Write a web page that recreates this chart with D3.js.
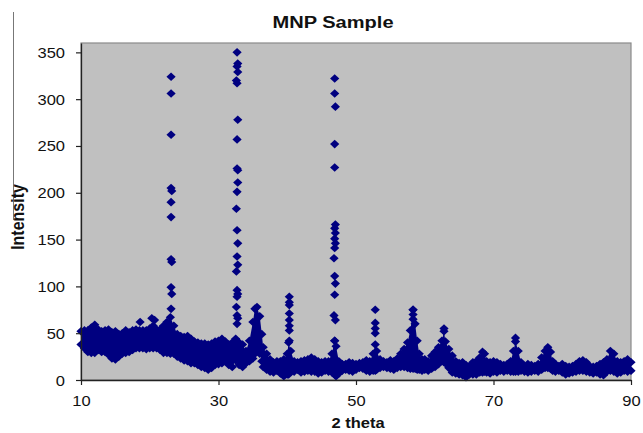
<!DOCTYPE html>
<html lang="en">
  <head>
    <meta charset="utf-8" />
    <title>MNP Sample</title>
    <style>
      body { margin: 0; background: #fff; }
      text { font-family: "Liberation Sans", Arial, sans-serif; }
    </style>
  </head>
  <body>
    <svg id="viz"></svg>

    <script src="https://d3js.org/d3.v7.min.js"></script>
    <script>
        // background band of the scan: 2 theta, upper and lower intensity
        var theta = [10, 10.5, 11, 11.5, 12, 12.5, 13, 13.5, 14, 14.5, 15, 15.5, 16, 16.5, 17, 17.5, 18, 18.5, 19, 19.5,
            20, 20.5, 21, 21.5, 22, 22.5, 23, 23.5, 24, 24.5, 25, 25.5, 26, 26.5, 27, 27.5, 28, 28.5, 29, 29.5,
            30, 30.5, 31, 31.5, 32, 32.5, 33, 33.5, 34, 34.5, 35, 35.3, 35.6, 36, 36.3, 36.5, 37, 37.5, 38, 38.5,
            39, 39.5, 40, 40.2, 40.5, 41, 41.5, 42, 42.5, 43, 43.5, 44, 44.5, 45, 45.5, 46, 46.5, 46.9, 47.1, 47.5,
            48, 48.5, 49, 49.5, 50, 50.5, 51, 51.5, 52, 52.5, 52.8, 53, 53.5, 54, 54.5, 55, 55.5, 56, 56.5, 57,
            57.5, 57.9, 58.3, 58.6, 58.9, 59.2, 59.6, 60, 60.5, 61, 61.5, 62, 62.5, 62.8, 63, 63.5, 64, 64.5, 65, 65.5,
            66, 66.5, 67, 67.5, 68, 68.4, 68.7, 69, 69.5, 70, 70.5, 71, 71.5, 72, 72.5, 72.9, 73.2, 73.6, 74, 74.5,
            75, 75.5, 76, 76.5, 77, 77.5, 77.9, 78.3, 78.6, 79, 79.5, 80, 80.5, 81, 81.5, 82, 82.5, 83, 83.5, 84,
            84.5, 85, 85.5, 86, 86.5, 87, 87.5, 88, 88.5, 89, 89.5, 90];
        var bandHigh = [52, 53, 53, 56, 59, 54, 52, 53, 54, 51, 52, 49, 50, 53, 51, 53, 54, 53, 53, 53,
            55, 58, 54, 54, 58, 62, 67, 58, 49, 47, 46, 47, 44, 41, 40, 39, 39, 38, 39, 41,
            42, 44, 41, 38, 40, 44, 40, 38, 31, 42, 62, 76, 78, 68, 49, 35, 28, 22, 19, 20,
            20, 22, 28, 40, 31, 20, 19, 20, 21, 22, 24, 22, 20, 19, 20, 20, 28, 42, 36, 20,
            17, 17, 19, 18, 17, 18, 19, 21, 20, 28, 38, 31, 22, 20, 19, 21, 20, 23, 28, 33,
            40, 53, 75, 60, 42, 28, 22, 22, 20, 26, 30, 35, 42, 52, 41, 33, 26, 20, 18, 19,
            16, 15, 19, 20, 24, 30, 28, 20, 19, 20, 19, 17, 16, 17, 20, 31, 41, 31, 19, 15,
            17, 16, 15, 17, 24, 31, 35, 30, 20, 17, 15, 17, 15, 14, 15, 17, 20, 21, 19, 15,
            14, 15, 17, 19, 22, 31, 28, 20, 19, 20, 22, 19];
        var bandLow = [38, 34, 30, 29, 29, 32, 30, 30, 27, 23, 22, 25, 28, 29, 30, 32, 34, 34, 34, 33,
            34, 34, 34, 32, 29, 29, 28, 28, 25, 23, 21, 20, 18, 18, 16, 14, 13, 11, 13, 16,
            17, 18, 20, 16, 14, 21, 16, 14, 18, 20, 23, 28, 32, 28, 20, 14, 11, 9, 8, 10,
            7, 4, 6, 6, 9, 9, 11, 8, 9, 10, 9, 9, 7, 8, 10, 9, 8, 6, 4, 7,
            10, 11, 10, 9, 11, 13, 12, 10, 9, 10, 10, 11, 13, 14, 13, 12, 11, 13, 14, 14,
            13, 12, 12, 12, 11, 11, 10, 11, 10, 12, 14, 17, 20, 19, 18, 13, 8, 7, 6, 5,
            3, 6, 6, 6, 8, 8, 9, 8, 7, 9, 8, 10, 9, 10, 9, 9, 9, 9, 10, 9,
            8, 9, 10, 9, 11, 13, 13, 12, 10, 9, 10, 8, 6, 7, 8, 9, 10, 10, 9, 8,
            7, 8, 6, 5, 9, 10, 9, 7, 8, 10, 9, 10];

        // single points standing above the band (the sharp reflections)
        var peakTheta = [18.6, 20.3, 20.7,
            23.1, 23.1, 23.1, 23.1, 23.2, 23.1, 23.1, 23.1, 23.2, 23.1, 23.2, 23.1,
            32.7, 32.8, 32.7, 32.8, 32.6, 32.7, 32.8, 32.7, 32.7, 32.8, 32.8, 32.7, 32.6, 32.7, 32.8, 32.7, 32.8, 32.6, 32.7, 32.8, 32.7, 32.6, 32.7, 32.8, 32.7,
            40.3, 40.3, 40.3, 40.3, 40.3, 40.3, 40.3, 40.3,
            46.9, 46.9, 47.0, 46.9, 46.9, 47.0, 46.9, 47.0, 46.9, 47.0, 46.9, 46.8, 46.9, 47.0, 46.9, 46.8, 47.0, 46.9,
            52.8, 52.8, 52.8, 52.8,
            58.3, 58.3, 58.3,
            62.8, 73.2];
        var peakValue = [62, 66, 64,
            324, 306, 262, 205, 202, 190, 174, 129, 126, 99, 92, 76,
            350, 338, 335, 329, 320, 317, 278, 257, 226, 224, 211, 201, 183, 160, 146, 132, 123, 116, 96, 92, 89, 78, 69, 66, 60,
            89, 83, 80, 71, 64, 58, 53, 42,
            322, 306, 292, 252, 227, 166, 162, 157, 151, 146, 141, 130, 111, 103, 91, 69, 64, 42,
            75, 61, 55, 50,
            75, 70, 65,
            55, 45];

        var yTicks = [0, 50, 100, 150, 200, 250, 300, 350];
        var xTicks = [10, 30, 50, 70, 90];

        (function() {
            var width = 643, height = 433;
            var plotL = 81, plotR = 631, plotT = 43, plotB = 380;
            var navy = "#000080";
            var stretch = 1.18; // the source picture is a bit wider than tall

            var x = d3.scaleLinear().domain([10, 90]).range([plotL, plotR]);
            var y = d3.scaleLinear().domain([0, 360]).range([plotB, plotT]);

            var svg = d3.select("#viz")
                .attr("width", width)
                .attr("height", height);

            // stray rule on the left of the picture
            svg.append("line")
                .attr("x1", 13.5).attr("x2", 13.5)
                .attr("y1", 12).attr("y2", 220)
                .attr("stroke", "#777")
                .attr("stroke-width", 1);

            // plot area
            svg.append("rect")
                .attr("x", plotL).attr("y", plotT)
                .attr("width", plotR - plotL).attr("height", plotB - plotT)
                .attr("fill", "#c0c0c0")
                .attr("stroke", "#8a8a8a")
                .attr("stroke-width", 1.2);

            function addText(tx, ty, str, size, weight, anchor) {
                return svg.append("text")
                    .attr("transform", "translate(" + tx + "," + ty + ") scale(" + stretch + ",1)")
                    .attr("text-anchor", anchor)
                    .attr("font-size", size)
                    .attr("font-weight", weight)
                    .attr("fill", "#111")
                    .text(str);
            }

            addText(333, 28, "MNP Sample", 17, "bold", "middle");
            addText(358, 428, "2 theta", 14, "bold", "middle");

            svg.append("text")
                .attr("transform", "translate(24,217) rotate(-90) scale(1," + stretch + ")")
                .attr("text-anchor", "middle")
                .attr("font-size", 16)
                .attr("font-weight", "bold")
                .attr("fill", "#111")
                .text("Intensity");

            // the scan: band between the two envelopes, with diamonds on its edges
            var band = theta.map(function(t, i) { return {t: t, hi: bandHigh[i], lo: bandLow[i]}; });
            var container = svg.append("g");

            container.append("path")
                .datum(band)
                .attr("fill", navy)
                .attr("d", d3.area()
                    .x(function(d) { return x(d.t); })
                    .y0(function(d) { return y(d.lo); })
                    .y1(function(d) { return y(d.hi); }));

            var diamond = "M0,-4.3L4.6,0L0,4.3L-4.6,0Z";
            var edgePts = [];
            band.forEach(function(d) {
                edgePts.push({t: d.t, v: d.hi});
                edgePts.push({t: d.t, v: d.lo});
            });

            container.selectAll(".edge")
                .data(edgePts)
                .enter()
                .append("path")
                .attr("class", "edge")
                .attr("d", diamond)
                .attr("fill", navy)
                .attr("transform", function(d) { return "translate(" + x(d.t) + "," + y(d.v) + ")"; });

            container.selectAll(".peak")
                .data(peakTheta.map(function(t, i) { return {t: t, v: peakValue[i]}; }))
                .enter()
                .append("path")
                .attr("class", "peak")
                .attr("d", diamond)
                .attr("fill", navy)
                .attr("transform", function(d) { return "translate(" + x(d.t) + "," + y(d.v) + ")"; });

            // axes drawn with d3 on top, labels restyled afterwards
            var yAxis = svg.append("g")
                .attr("transform", "translate(" + plotL + ",0)")
                .call(d3.axisLeft(y).tickValues(yTicks).tickSize(5).tickSizeOuter(0).tickPadding(0));
            var xAxis = svg.append("g")
                .attr("transform", "translate(0," + plotB + ")")
                .call(d3.axisBottom(x).tickValues(xTicks).tickSize(5).tickSizeOuter(0).tickPadding(0));

            [yAxis, xAxis].forEach(function(ax) {
                ax.select(".domain").attr("stroke", "#222").attr("stroke-width", 1.3);
                ax.selectAll(".tick line").attr("stroke", "#222").attr("stroke-width", 1.2);
                ax.selectAll(".tick text")
                    .attr("font-family", "Liberation Sans, Arial, sans-serif")
                    .attr("font-size", 14)
                    .attr("fill", "#111");
            });
            yAxis.selectAll(".tick text")
                .attr("x", null).attr("dy", null)
                .attr("transform", "translate(-16,5) scale(" + stretch + ",1)");
            xAxis.selectAll(".tick text")
                .attr("y", null).attr("dy", null)
                .attr("transform", "translate(0,26) scale(" + stretch + ",1)");
        })();
    </script>
  </body>
</html>
